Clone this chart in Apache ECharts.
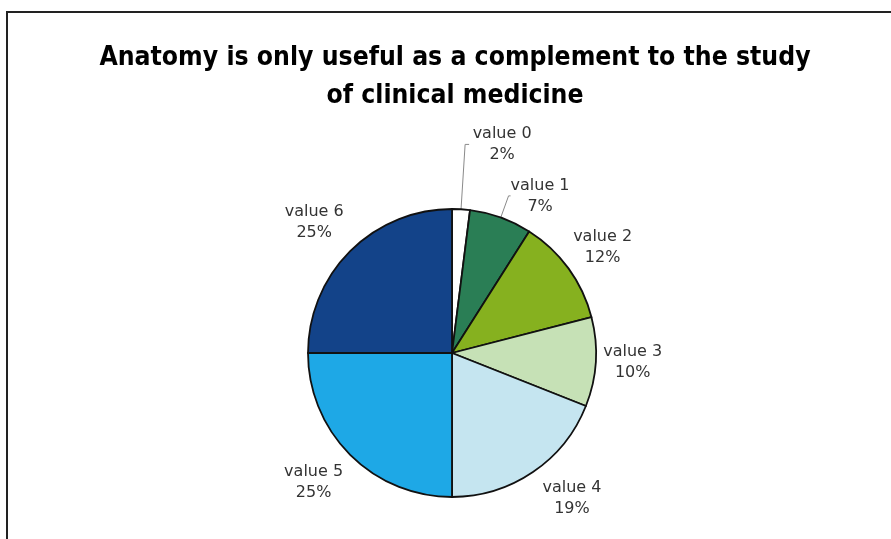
<!DOCTYPE html>
<html>
<head>
<meta charset="utf-8">
<script src="https://cdn.jsdelivr.net/npm/echarts@6/dist/echarts.min.js"></script>
<style>
  html, body { margin: 0; padding: 0; background: #fff; }
  #chart { width: 891px; height: 539px; }
</style>
</head>
<body>
<div id="chart"></div>
<script>
const titleText = 'Anatomy is only useful as a complement to the study\nof clinical medicine';
const categories = ['value 0', 'value 1', 'value 2', 'value 3', 'value 4', 'value 5', 'value 6'];
const percents = [2, 7, 12, 10, 19, 25, 25];
const colors = ['#ffffff', '#2a7e55', '#86b11f', '#c6e1b6', '#c5e5f0', '#1ea8e6', '#134389'];

// label placement per slice: [length, length2, distanceToLabelLine, showLine]
const labelTweaks = [
  [65, 4, 1, true],
  [23, 2, -2.5, true],
  [36, 0, -27, false],
  [7, 0, -2, false],
  [32, 0, -11, false],
  [39, 0, -23, false],
  [41, 0, -25, false]
];

const chart = echarts.init(document.getElementById('chart'));

const pieData = categories.map((name, i) => {
  const t = labelTweaks[i];
  return {
    name: name,
    value: percents[i],
    itemStyle: { color: colors[i] },
    label: { distanceToLabelLine: t[2] },
    labelLine: { show: t[3], length: t[0], length2: t[1] }
  };
});

chart.setOption({
  animation: false,
  backgroundColor: '#fff',
  title: {
    text: titleText,
    left: 455,
    textAlign: 'center',
    top: 39,
    padding: 0,
    textStyle: {
      fontFamily: '"Liberation Sans Narrow", "DejaVu Sans Condensed", "Noto Sans"',
      fontWeight: 'bold',
      fontSize: 26.3,
      lineHeight: 38,
      color: '#000'
    }
  },
  graphic: [
    {
      type: 'polyline',
      shape: { points: [[7, 539], [7, 12], [891, 12]] },
      style: { stroke: '#222', lineWidth: 2, fill: null }
    }
  ],
  series: [
    {
      type: 'pie',
      center: [452, 353],
      radius: 144,
      startAngle: 90,
      clockwise: true,
      avoidLabelOverlap: false,
      itemStyle: { borderColor: '#111', borderWidth: 1.8 },
      label: {
        position: 'outside',
        alignTo: 'none',
        formatter: p => '{t|' + p.name + '}\n{t|' + p.value + '%}',
        rich: {
          t: {
            width: 64,
            align: 'center',
            fontFamily: '"DejaVu Sans"',
            fontSize: 16,
            lineHeight: 21,
            color: '#333'
          }
        }
      },
      labelLine: {
        lineStyle: { color: '#8a8a8a', width: 1 }
      },
      emphasis: { disabled: true },
      data: pieData
    }
  ]
});

window.addEventListener('resize', () => {
  chart.resize();
});
</script>
</body>
</html>
